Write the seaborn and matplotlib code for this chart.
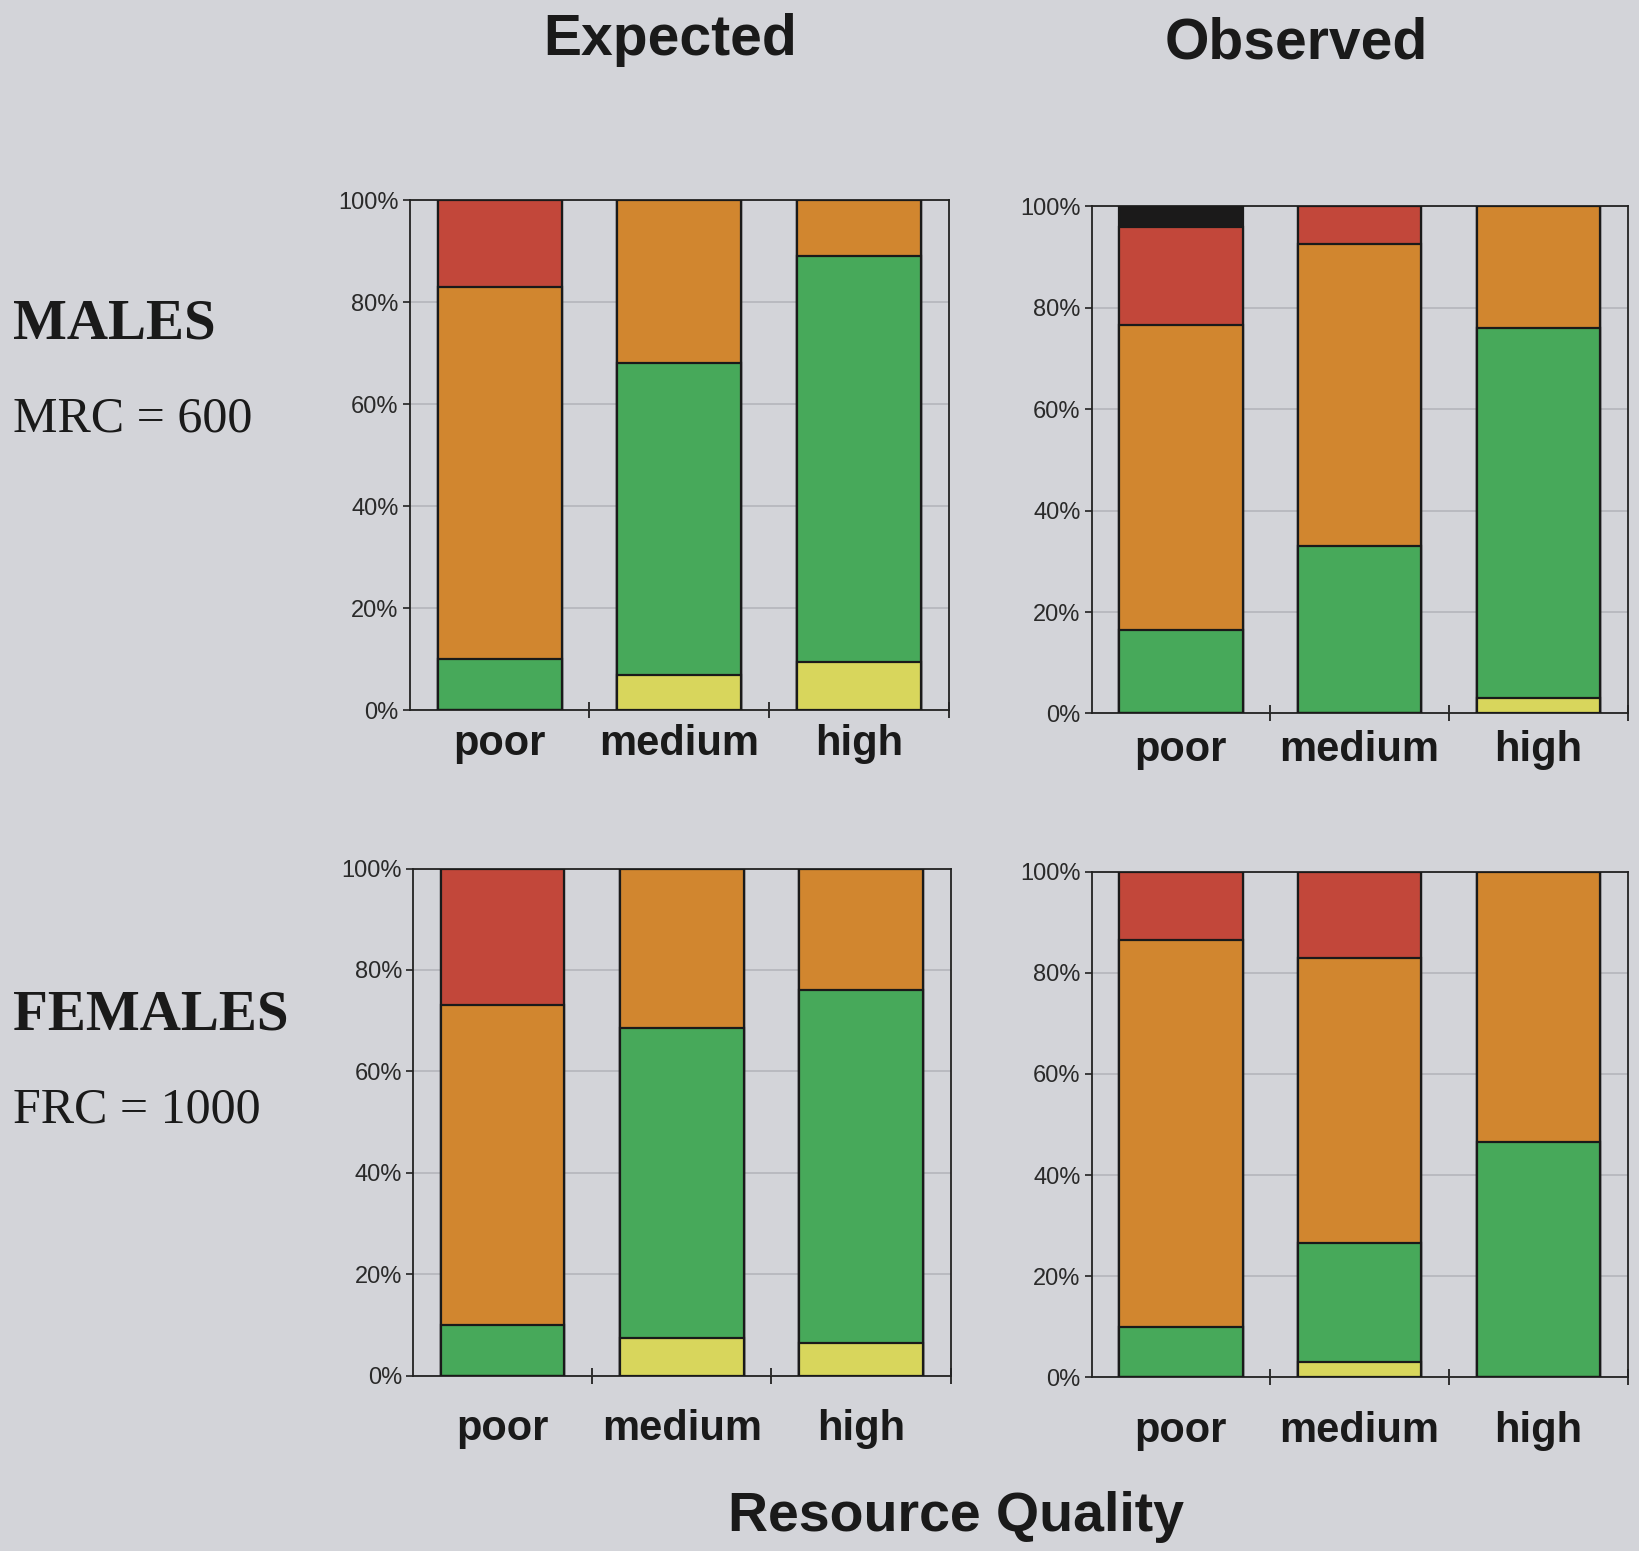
import numpy as np
import matplotlib
matplotlib.use("Agg")
import matplotlib.pyplot as plt
import seaborn as sns

# categorias do eixo x
categories = ["poor", "medium", "high"]

# camadas empilhadas de baixo para cima
layer_colors = ["#d8d65c", "#47a95a", "#d1862f", "#c2473a", "#1b1a1a"]

# linhas: amarelo, verde, laranja, vermelho, preto / colunas: poor, medium, high
males_expected = [[0, 7, 9.5], [10, 61, 79.5], [73, 32, 11], [17, 0, 0], [0, 0, 0]]
males_observed = [[0, 0, 3], [16.5, 33, 73], [60, 59.5, 24], [19.5, 7.5, 0], [4, 0, 0]]
females_expected = [[0, 7.5, 6.5], [10, 61, 69.5], [63, 31.5, 24], [27, 0, 0], [0, 0, 0]]
females_observed = [[0, 3, 0], [10, 23.5, 46.5], [76.5, 56.5, 53.5], [13.5, 17, 0], [0, 0, 0]]

ytick_values = [0, 20, 40, 60, 80, 100]
ytick_labels = ["0%", "20%", "40%", "60%", "80%", "100%"]

bg = "#d3d4d9"

sns.set_style("ticks")
plt.rcParams["font.family"] = ["Liberation Sans", "DejaVu Sans"]

fig = plt.figure(figsize=(16.39, 15.51), dpi=100, facecolor=bg)

panels = [
    (males_expected, [0.250, 0.542, 0.329, 0.329], 10),
    (males_observed, [0.666, 0.540, 0.327, 0.327], 12),
    (females_expected, [0.252, 0.113, 0.328, 0.327], 24),
    (females_observed, [0.666, 0.112, 0.327, 0.326], 24),
]

for data, pos, xpad in panels:
    ax = fig.add_axes(pos)
    ax.set_facecolor(bg)
    cum = np.cumsum(np.array(data), axis=0)
    # desenha do topo para baixo, cada camada por cima da anterior
    for k in range(len(layer_colors) - 1, -1, -1):
        sns.barplot(x=categories, y=cum[k], color=layer_colors[k], width=0.69,
                    saturation=1, edgecolor="#1a1a1a", linewidth=1.6,
                    errorbar=None, ax=ax, zorder=3)
    ax.set_xlim(-0.5, 2.5)
    ax.set_ylim(0, 100)
    ax.set_yticks(ytick_values)
    ax.set_yticklabels(ytick_labels, fontsize=17, color="#2a2a2a")
    ax.set_xticks([0, 1, 2])
    ax.set_xticklabels(categories, fontsize=30, fontweight="bold", color="#1a1a1a")
    ax.set_xticks([0.5, 1.5, 2.5], minor=True)
    ax.tick_params(axis="x", which="major", length=0, pad=xpad)
    ax.tick_params(axis="x", which="minor", length=12, width=1.3, direction="inout", color="#222")
    ax.tick_params(axis="y", length=5, width=1.2, color="#222", pad=3)
    ax.yaxis.grid(True, color="#b4b5bc", linewidth=1.2)
    ax.xaxis.grid(False)
    ax.set_axisbelow(True)
    ax.set_xlabel("")
    ax.set_ylabel("")
    for s in ax.spines.values():
        s.set_visible(True)
        s.set_color("#222")
        s.set_linewidth(1.3)

fig.text(0.409, 0.974, "Expected", fontsize=41, fontweight="bold", ha="center", va="center", color="#1a1a1a")
fig.text(0.791, 0.972, "Observed", fontsize=41, fontweight="bold", ha="center", va="center", color="#1a1a1a")
fig.text(0.583, 0.022, "Resource Quality", fontsize=40, fontweight="bold", ha="center", va="center", color="#1a1a1a")

serif = ["Liberation Serif", "DejaVu Serif"]
fig.text(0.008, 0.791, "MALES", fontsize=41, fontweight="bold", family=serif, ha="left", va="center", color="#1a1a1a")
fig.text(0.008, 0.730, "MRC = 600", fontsize=36, family=serif, ha="left", va="center", color="#1a1a1a")
fig.text(0.008, 0.345, "FEMALES", fontsize=41, fontweight="bold", family=serif, ha="left", va="center", color="#1a1a1a")
fig.text(0.008, 0.284, "FRC = 1000", fontsize=36, family=serif, ha="left", va="center", color="#1a1a1a")

fig.savefig("out.png", dpi=100, facecolor=bg)
